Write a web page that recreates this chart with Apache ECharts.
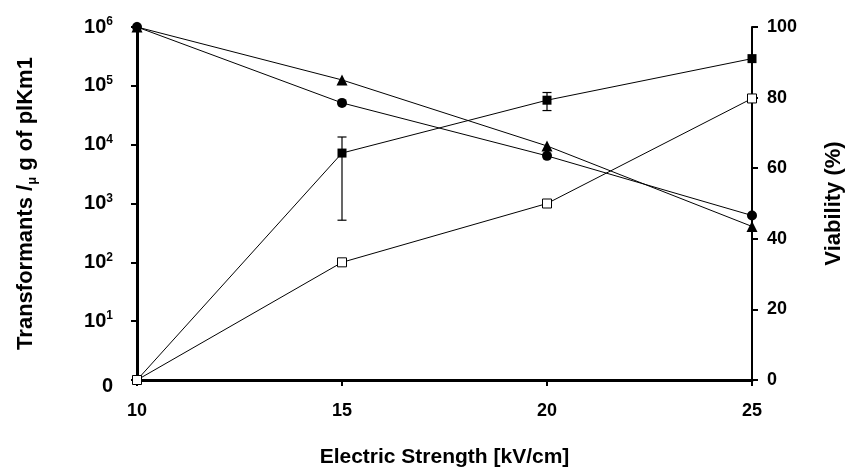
<!DOCTYPE html>
<html>
<head>
<meta charset="utf-8">
<script src="https://cdn.jsdelivr.net/npm/echarts@6/dist/echarts.min.js"></script>
<style>
  html, body { margin: 0; padding: 0; background: #fff; }
  #chart { width: 846px; height: 469px; }
</style>
</head>
<body>
<div id="chart"></div>
<script>
// ---- data ----
const fieldStrength = [10, 15, 20, 25];                 // kV/cm
const transformantsFilled = [0, 7200, 57000, 290000];    // filled squares (left log axis)
const filledErrLow  = [null, 520, 38000, null];
const filledErrHigh = [null, 13500, 77000, null];
const transformantsOpen = [0, 100, 1000, 61000];         // open squares (left log axis)
const viabilityCircle = [100, 78.5, 63.5, 46.6];         // filled circles (right axis, %)
const viabilityTriangle = [100, 85, 66.3, 43.5];         // filled triangles (right axis, %)
const xTicks = [10, 15, 20, 25];
const rightTicks = [0, 20, 40, 60, 80, 100];
const LOG_FLOOR = 1; // the log axis bottom labelled "0"

const FONT = '"Liberation Sans", Arial, sans-serif';

function logPts(vals) {
  return fieldStrength.map((x, i) => [x, vals[i] === 0 ? LOG_FLOOR : vals[i]]);
}
function linPts(vals) {
  return fieldStrength.map((x, i) => [x, vals[i]]);
}
const errData = [];
fieldStrength.forEach((x, i) => {
  if (filledErrLow[i] != null) errData.push([x, filledErrLow[i], filledErrHigh[i]]);
});

const chart = echarts.init(document.getElementById('chart'), null, { renderer: 'canvas' });

const option = {
  backgroundColor: '#fff',
  animation: false,
  grid: { left: 137, right: 94, top: 27, bottom: 89, containLabel: false, outerBoundsMode: 'none' },
  xAxis: {
    type: 'value',
    min: 10, max: 25, interval: 5,
    name: 'Electric Strength [kV/cm]',
    nameLocation: 'middle',
    nameGap: 67,
    nameTextStyle: { fontFamily: FONT, fontWeight: 'bold', fontSize: 21, color: '#000' },
    axisLine: { show: true, lineStyle: { color: '#000', width: 3 } },
    axisTick: { show: true, inside: false, length: 6, lineStyle: { color: '#000', width: 2 } },
    axisLabel: { margin: 22, fontFamily: FONT, fontWeight: 'bold', fontSize: 18, color: '#000',
      formatter: v => xTicks.indexOf(v) >= 0 ? String(v) : '' },
    splitLine: { show: false }
  },
  yAxis: [
    {
      type: 'log', logBase: 10, min: 1, max: 1e6,
      position: 'left',
      name: '{a|Transformants /}{m|μ}{a| g of plKm1}',
      nameLocation: 'middle',
      nameGap: 98,
      nameTextStyle: {
        fontFamily: FONT, fontWeight: 'bold', fontSize: 22, color: '#000',
        rich: {
          a: { fontFamily: FONT, fontWeight: 'bold', fontSize: 22, color: '#000', lineHeight: 27 },
          m: { fontFamily: FONT, fontSize: 13, color: '#000', verticalAlign: 'bottom', lineHeight: 27 }
        }
      },
      axisLine: { show: true, lineStyle: { color: '#000', width: 3 } },
      axisTick: { show: true, inside: false, length: 6, lineStyle: { color: '#000', width: 2 } },
      axisLabel: {
        margin: 24,
        formatter: v => {
          if (v <= LOG_FLOOR) return '{z|0}';
          const e = Math.round(Math.log10(v));
          return '{n|10}{s|' + e + '}';
        },
        rich: {
          n: { fontFamily: FONT, fontWeight: 'bold', fontSize: 20, color: '#000', lineHeight: 22 },
          s: { fontFamily: FONT, fontWeight: 'bold', fontSize: 12, color: '#000', lineHeight: 22, verticalAlign: 'top' },
          z: { fontFamily: FONT, fontWeight: 'bold', fontSize: 20, color: '#000', lineHeight: 22, padding: [12, 0, 0, 0] }
        }
      },
      splitLine: { show: false }
    },
    {
      type: 'value', min: 0, max: 100, interval: 20,
      position: 'right',
      name: 'Viability (%)',
      nameLocation: 'middle',
      nameGap: 71,
      nameTextStyle: { fontFamily: FONT, fontWeight: 'bold', fontSize: 22, color: '#000' },
      axisLine: { show: true, lineStyle: { color: '#000', width: 2 } },
      axisTick: { show: true, inside: false, length: 6, lineStyle: { color: '#000', width: 2 } },
      axisLabel: { margin: 15, fontFamily: FONT, fontWeight: 'bold', fontSize: 18, color: '#000',
        formatter: v => rightTicks.indexOf(v) >= 0 ? String(v) : '' },
      splitLine: { show: false }
    }
  ],
  series: [
    {
      name: 'Viability (triangle)', type: 'line', yAxisIndex: 1,
      data: linPts(viabilityTriangle),
      symbol: 'triangle', symbolSize: 11,
      lineStyle: { color: '#000', width: 1 },
      itemStyle: { color: '#000' }, z: 3
    },
    {
      name: 'Viability (circle)', type: 'line', yAxisIndex: 1,
      data: linPts(viabilityCircle),
      symbol: 'circle', symbolSize: 10,
      lineStyle: { color: '#000', width: 1 },
      itemStyle: { color: '#000' }, z: 4
    },
    {
      name: 'Error bars', type: 'custom', yAxisIndex: 0,
      data: errData,
      renderItem: (params, api) => {
        const x = api.value(0);
        const lo = api.coord([x, api.value(1)]);
        const hi = api.coord([x, api.value(2)]);
        const cap = 4.5;
        const style = { stroke: '#000', lineWidth: 1.2 };
        return {
          type: 'group',
          children: [
            { type: 'line', shape: { x1: lo[0], y1: lo[1], x2: hi[0], y2: hi[1] }, style },
            { type: 'line', shape: { x1: lo[0] - cap, y1: lo[1], x2: lo[0] + cap, y2: lo[1] }, style },
            { type: 'line', shape: { x1: hi[0] - cap, y1: hi[1], x2: hi[0] + cap, y2: hi[1] }, style }
          ]
        };
      },
      z: 2
    },
    {
      name: 'Transformants (filled)', type: 'line', yAxisIndex: 0,
      data: logPts(transformantsFilled),
      symbol: 'rect', symbolSize: 9,
      lineStyle: { color: '#000', width: 1 },
      itemStyle: { color: '#000' }, z: 5
    },
    {
      name: 'Transformants (open)', type: 'line', yAxisIndex: 0,
      data: logPts(transformantsOpen),
      symbol: 'rect', symbolSize: 9,
      showAllSymbol: true,
      lineStyle: { color: '#000', width: 1 },
      itemStyle: { color: '#fff', borderColor: '#000', borderWidth: 1 }, z: 6
    }
  ]
};

chart.setOption(option);
</script>
</body>
</html>
